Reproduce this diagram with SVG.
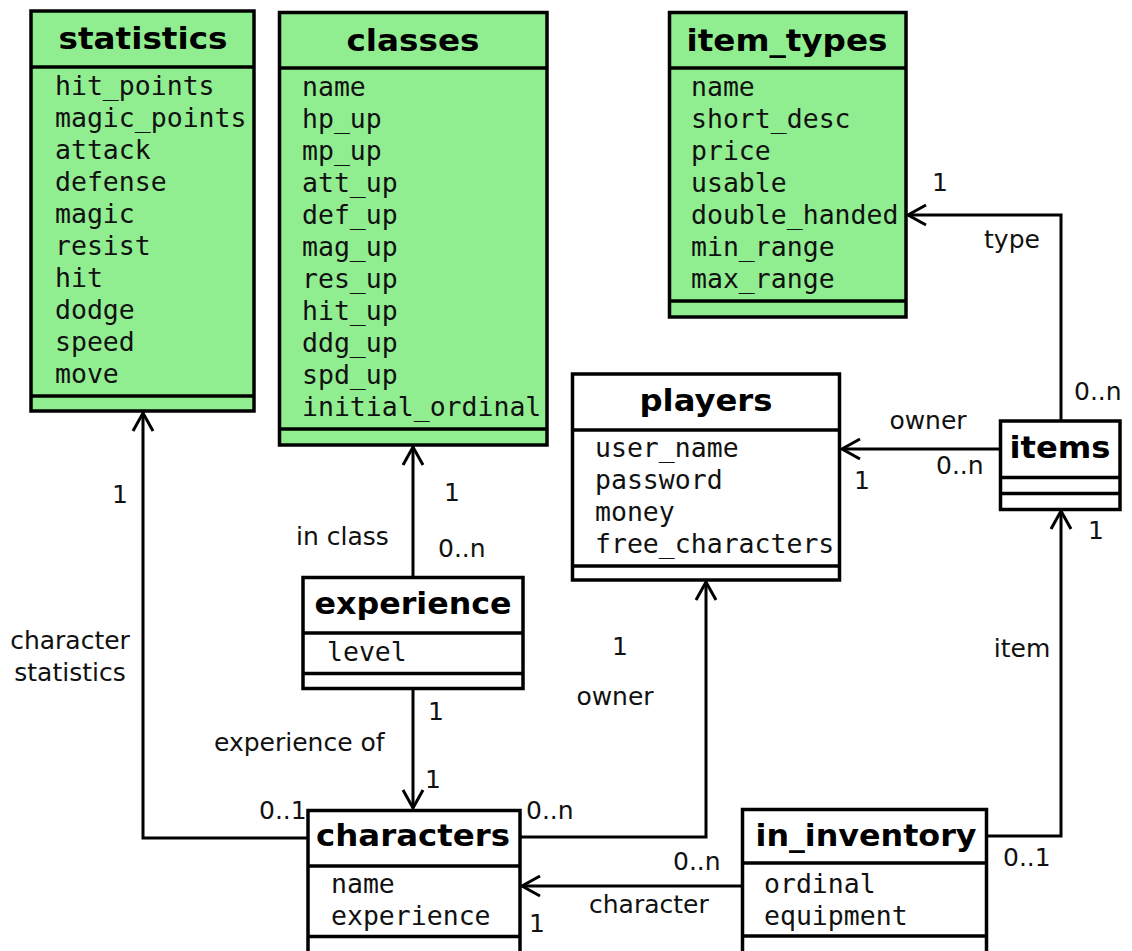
<svg xmlns="http://www.w3.org/2000/svg" width="1132" height="951" viewBox="0 0 1132 951">
<style>
.box{fill:#ffffff;stroke:#000;stroke-width:3.5}
.g .box{fill:#90ee90}
.sep{stroke:#000;stroke-width:3.5}
.title{font-family:"DejaVu Sans",sans-serif;font-weight:bold;font-size:30px;text-anchor:middle;fill:#000}
.attr{font-family:"DejaVu Sans Mono",monospace;font-size:26.5px;fill:#111}
.lbl{font-family:"DejaVu Sans",sans-serif;font-size:25px;fill:#111}
.mid{text-anchor:middle}
.conn{fill:none;stroke:#000;stroke-width:3;marker-end:url(#open)}
</style>
<defs>
<marker id="open" markerUnits="userSpaceOnUse" viewBox="-22 -13 26 26" refX="0" refY="0" markerWidth="26" markerHeight="26" orient="auto">
<path d="M -18 -10 L 0 0 L -18 10" fill="none" stroke="#000" stroke-width="3"/>
</marker>
</defs>
<rect width="1132" height="951" fill="#fff"/>

<g id="connectors">
<path class="conn" d="M308 838 H143 V413"/>
<path class="conn" d="M413 577 V447"/>
<path class="conn" d="M413 688 V808"/>
<path class="conn" d="M520 837 H706 V582"/>
<path class="conn" d="M1000 449 H842"/>
<path class="conn" d="M1061 421 V215 H908"/>
<path class="conn" d="M987 836 H1061 V511"/>
<path class="conn" d="M742 886 H522"/>
</g>

<g id="labels">
<text class="lbl mid" x="120" y="503">1</text>
<text class="lbl mid" x="70" y="649">character</text>
<text class="lbl mid" x="70" y="681">statistics</text>
<text class="lbl" x="259" y="819">0..1</text>
<text class="lbl mid" x="452" y="501">1</text>
<text class="lbl" x="296" y="545">in class</text>
<text class="lbl" x="438" y="557">0..n</text>
<text class="lbl mid" x="436" y="720">1</text>
<text class="lbl" x="214" y="751">experience of</text>
<text class="lbl mid" x="433" y="788">1</text>
<text class="lbl" x="526" y="819">0..n</text>
<text class="lbl mid" x="620" y="655">1</text>
<text class="lbl mid" x="615" y="705">owner</text>
<text class="lbl mid" x="928" y="429">owner</text>
<text class="lbl mid" x="862" y="489">1</text>
<text class="lbl" x="936" y="474">0..n</text>
<text class="lbl mid" x="940" y="191">1</text>
<text class="lbl mid" x="1012" y="248">type</text>
<text class="lbl" x="1074" y="400">0..n</text>
<text class="lbl mid" x="1096" y="539">1</text>
<text class="lbl mid" x="1022" y="657">item</text>
<text class="lbl" x="1003" y="866">0..1</text>
<text class="lbl" x="673" y="870">0..n</text>
<text class="lbl" x="589" y="913">character</text>
<text class="lbl mid" x="537" y="932">1</text>
</g>

<g id="statistics" class="g">
<rect class="box" x="31" y="11" width="223" height="400"/>
<line class="sep" x1="31" y1="67" x2="254" y2="67"/>
<line class="sep" x1="31" y1="396" x2="254" y2="396"/>
<text class="title" x="143" y="49" textLength="169" lengthAdjust="spacingAndGlyphs">statistics</text>
<text class="attr" x="55" y="95">hit_points</text>
<text class="attr" x="55" y="127">magic_points</text>
<text class="attr" x="55" y="159">attack</text>
<text class="attr" x="55" y="191">defense</text>
<text class="attr" x="55" y="223">magic</text>
<text class="attr" x="55" y="255">resist</text>
<text class="attr" x="55" y="287">hit</text>
<text class="attr" x="55" y="319">dodge</text>
<text class="attr" x="55" y="351">speed</text>
<text class="attr" x="55" y="383">move</text>
</g>

<g id="classes" class="g">
<rect class="box" x="279.5" y="12.5" width="267.5" height="432.5"/>
<line class="sep" x1="279.5" y1="68" x2="547" y2="68"/>
<line class="sep" x1="279.5" y1="429" x2="547" y2="429"/>
<text class="title" x="413" y="51" textLength="133" lengthAdjust="spacingAndGlyphs">classes</text>
<text class="attr" x="302" y="96">name</text>
<text class="attr" x="302" y="128">hp_up</text>
<text class="attr" x="302" y="160">mp_up</text>
<text class="attr" x="302" y="192">att_up</text>
<text class="attr" x="302" y="224">def_up</text>
<text class="attr" x="302" y="256">mag_up</text>
<text class="attr" x="302" y="288">res_up</text>
<text class="attr" x="302" y="320">hit_up</text>
<text class="attr" x="302" y="352">ddg_up</text>
<text class="attr" x="302" y="384">spd_up</text>
<text class="attr" x="302" y="416">initial_ordinal</text>
</g>

<g id="item_types" class="g">
<rect class="box" x="669.5" y="12.5" width="236.5" height="304.5"/>
<line class="sep" x1="669.5" y1="68" x2="906" y2="68"/>
<line class="sep" x1="669.5" y1="301" x2="906" y2="301"/>
<text class="title" x="787" y="51" textLength="201" lengthAdjust="spacingAndGlyphs">item_types</text>
<text class="attr" x="691" y="96">name</text>
<text class="attr" x="691" y="128">short_desc</text>
<text class="attr" x="691" y="160">price</text>
<text class="attr" x="691" y="192">usable</text>
<text class="attr" x="691" y="224">double_handed</text>
<text class="attr" x="691" y="256">min_range</text>
<text class="attr" x="691" y="288">max_range</text>
</g>

<g id="players">
<rect class="box" x="572.5" y="374" width="267" height="206"/>
<line class="sep" x1="572.5" y1="430" x2="839.5" y2="430"/>
<line class="sep" x1="572.5" y1="566" x2="839.5" y2="566"/>
<text class="title" x="706" y="411" textLength="133" lengthAdjust="spacingAndGlyphs">players</text>
<text class="attr" x="595" y="457">user_name</text>
<text class="attr" x="595" y="489">password</text>
<text class="attr" x="595" y="521">money</text>
<text class="attr" x="595" y="553">free_characters</text>
</g>

<g id="items">
<rect class="box" x="1000.5" y="421" width="119.5" height="88.5"/>
<line class="sep" x1="1000.5" y1="477.5" x2="1120" y2="477.5"/>
<line class="sep" x1="1000.5" y1="493.5" x2="1120" y2="493.5"/>
<text class="title" x="1060" y="458" textLength="101" lengthAdjust="spacingAndGlyphs">items</text>
</g>

<g id="experience">
<rect class="box" x="303" y="577.5" width="220" height="111"/>
<line class="sep" x1="303" y1="633" x2="523" y2="633"/>
<line class="sep" x1="303" y1="673.5" x2="523" y2="673.5"/>
<text class="title" x="413" y="614" textLength="197" lengthAdjust="spacingAndGlyphs">experience</text>
<text class="attr" x="327" y="661">level</text>
</g>

<g id="characters">
<rect class="box" x="308" y="810.5" width="212" height="160"/>
<line class="sep" x1="308" y1="866" x2="520" y2="866"/>
<line class="sep" x1="308" y1="936.5" x2="520" y2="936.5"/>
<text class="title" x="413" y="846" textLength="194" lengthAdjust="spacingAndGlyphs">characters</text>
<text class="attr" x="331" y="893">name</text>
<text class="attr" x="331" y="925">experience</text>
</g>

<g id="in_inventory">
<rect class="box" x="742.5" y="809.5" width="244" height="160"/>
<line class="sep" x1="742.5" y1="863" x2="986.5" y2="863"/>
<line class="sep" x1="742.5" y1="936" x2="986.5" y2="936"/>
<text class="title" x="866" y="846" textLength="221" lengthAdjust="spacingAndGlyphs">in_inventory</text>
<text class="attr" x="764" y="893">ordinal</text>
<text class="attr" x="764" y="925">equipment</text>
</g>
</svg>
